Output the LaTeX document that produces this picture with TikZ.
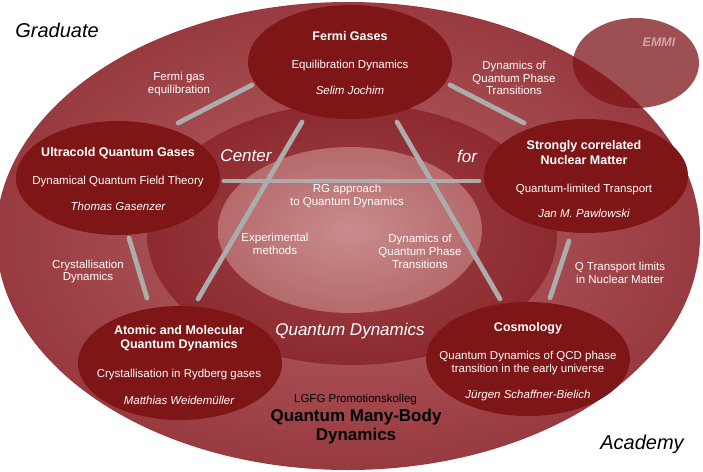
\documentclass[tikz,border=0pt]{standalone}
\usepackage{fontspec}
\setmainfont{Liberation Sans}
\usetikzlibrary{shapes.geometric}
\definecolor{nodered}{RGB}{126,21,23}
\definecolor{outerin}{RGB}{182,100,102}
\definecolor{outerout}{RGB}{152,58,63}
\definecolor{midin}{RGB}{160,66,70}
\definecolor{midout}{RGB}{140,42,47}
\definecolor{innerin}{RGB}{200,140,140}
\definecolor{innerout}{RGB}{182,106,108}
\definecolor{linkgray}{RGB}{172,172,172}
\definecolor{emmitext}{RGB}{210,165,170}
\tikzset{
  topic/.style={ellipse, fill=nodered, minimum width=204pt, minimum height=114pt, inner sep=0pt, outer sep=0pt},
  link/.style={draw=linkgray, line width=4.8pt, line cap=round},
  ttl/.style={text=white, anchor=base, inner sep=0pt, font=\fontsize{12.5}{15}\selectfont\bfseries},
  sub/.style={text=white, anchor=base, inner sep=0pt, font=\fontsize{11.5}{13}\selectfont},
  who/.style={text=white, anchor=base, inner sep=0pt, font=\fontsize{11.5}{13}\selectfont\itshape},
  lbl/.style={text=white, align=center, inner sep=0pt, font=\fontsize{11.5}{12.8}\selectfont},
  big/.style={inner sep=0pt, font=\fontsize{20}{24}\selectfont\itshape},
  ring/.style={text=white, inner sep=0pt, font=\fontsize{17}{20}\selectfont\itshape}
}
\begin{document}
\begin{tikzpicture}[x=1pt,y=-1pt]
\useasboundingbox (0,0) rectangle (703,471);
\fill[white] (0,0) rectangle (703,471);
\clip (0,0) rectangle (703,471);
% background rings
\shade[inner color=outerin, outer color=outerout] (348,236) ellipse [x radius=352pt, y radius=234pt];
\node[ellipse, fill=nodered, fill opacity=0.75, minimum width=126pt, minimum height=90pt, inner sep=0pt] (emmi) at (636,63) {};
\node[text=emmitext, inner sep=0pt, font=\fontsize{12.5}{14}\selectfont\bfseries\itshape] (emmiT) at (659,42) {EMMI};
\shade[inner color=midin, outer color=midout] (352,234) ellipse [x radius=205pt, y radius=131pt];
\shade[inner color=innerin, outer color=innerout] (350,230) ellipse [x radius=132pt, y radius=83pt];
% topic nodes
\node[topic] (fermi) at (350,62) {};
\node[topic] (ultra) at (118,178) {};
\node[topic] (strong) at (586,176) {};
\node[topic] (atomic) at (180,363) {};
\node[topic] (cosmo) at (528,359) {};
% connectors
\draw[link] ([shift={(60,-55)}]ultra.center) -- ([shift={(-98,23)}]fermi.center);
\draw[link] ([shift={(100,23)}]fermi.center) -- ([shift={(-62,-53)}]strong.center);
\draw[link] ([shift={(-48,60)}]fermi.center) -- ([shift={(18,-64)}]atomic.center);
\draw[link] ([shift={(47,60)}]fermi.center) -- ([shift={(-28,-60)}]cosmo.center);
\draw[link] ([shift={(106,3)}]ultra.center) -- ([shift={(-107,5)}]strong.center);
\draw[link] ([shift={(11,60)}]ultra.center) -- ([shift={(-33,-65)}]atomic.center);
\draw[link] ([shift={(-17,65)}]strong.center) -- ([shift={(22,-61)}]cosmo.center);
% topic texts
\node[ttl] (fermiA) at (350,40.5) {Fermi Gases};
\node[sub] (fermiB) at (350,68) {Equilibration Dynamics};
\node[who] (fermiC) at (350,94) {Selim Jochim};
\node[ttl] (ultraA) at (118,156.5) {Ultracold Quantum Gases};
\node[sub] (ultraB) at (118,184) {Dynamical Quantum Field Theory};
\node[who] (ultraC) at (118,210) {Thomas Gasenzer};
\node[ttl] (strongA) at (584,149.5) {Strongly correlated};
\node[ttl] (strongA2) at (584,164.5) {Nuclear Matter};
\node[sub] (strongB) at (584,192) {Quantum-limited Transport};
\node[who] (strongC) at (584,217) {Jan M. Pawlowski};
\node[ttl] (atomicA) at (179,334.5) {Atomic and Molecular};
\node[ttl] (atomicA2) at (179,348.5) {Quantum Dynamics};
\node[sub] (atomicB) at (179,377) {Crystallisation in Rydberg gases};
\node[who] (atomicC) at (179,404) {Matthias Weidemüller};
\node[ttl] (cosmoA) at (528,331.5) {Cosmology};
\node[sub] (cosmoB) at (528,359) {Quantum Dynamics of QCD phase};
\node[sub] (cosmoB2) at (528,372) {transition in the early universe};
\node[who] (cosmoC) at (528,398) {Jürgen Schaffner-Bielich};
% connector labels
\node[lbl] (l1) at (179,84) {Fermi gas\\equilibration};
\node[lbl] (l2) at (514,78) {Dynamics of\\Quantum Phase\\Transitions};
\node[lbl] (l3) at (88,271.5) {Crystallisation\\Dynamics};
\node[lbl] (l4) at (275,244) {Experimental\\methods};
\node[lbl] (l5) at (347,196) {RG approach\\to Quantum Dynamics};
\node[lbl] (l6) at (420,251.5) {Dynamics of\\Quantum Phase\\Transitions};
\node[lbl] (l7) at (620,272.5) {Q Transport limits\\in Nuclear Matter};
% ring words
\node[big] (grad) at (57,30) {Graduate};
\node[big] (acad) at (642,444) {Academy};
\node[ring] (center) at (246,156) {Center};
\node[ring] (for) at (467,156) {for};
\node[ring] (qd) at (350,331) {Quantum Dynamics};
\node[inner sep=0pt, font=\fontsize{11.5}{13}\selectfont] (lgfg) at (355.5,400) {LGFG Promotionskolleg};
\node[inner sep=0pt, align=center, font=\fontsize{17}{19}\selectfont\bfseries] (qmbd) at (356,427) {Quantum Many-Body\\Dynamics};
\end{tikzpicture}
\end{document}
